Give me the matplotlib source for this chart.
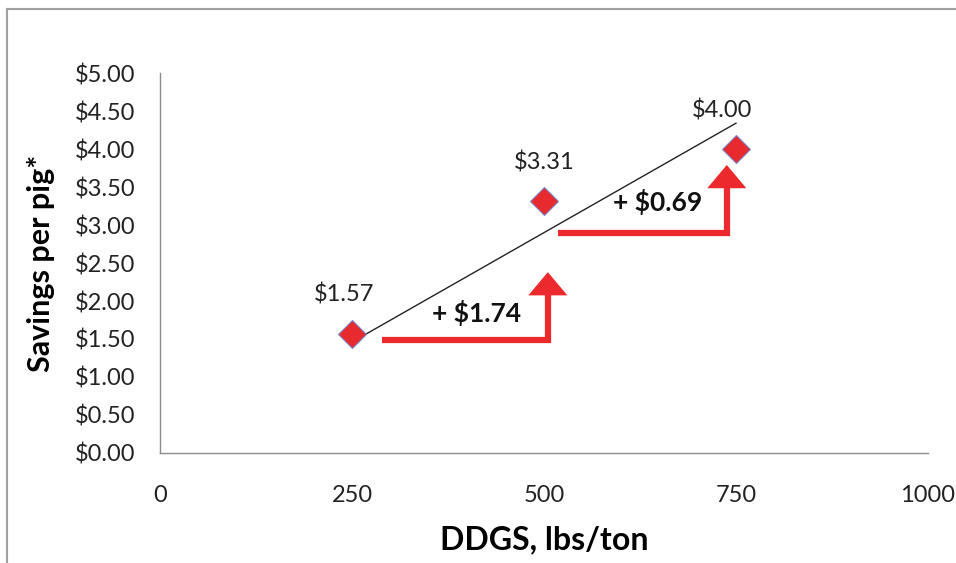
import matplotlib.pyplot as plt
from matplotlib.lines import Line2D
from matplotlib.ticker import FuncFormatter

plt.rcParams['font.family'] = ['Lato', 'DejaVu Sans']

# DDGS inclusion vs savings per pig
ddgs = [250, 500, 750]
savings = [1.57, 3.31, 4.00]
point_labels = ['$1.57', '$3.31', '$4.00']

# trend line ends as drawn
trend_x = [250, 750]
trend_y = [1.46, 4.34]

# elbow arrows: (start x, start y, end x, end y, text, text x, text y)
arrows = [
    (289, 1.49, 505, 2.38, '+ $1.74', 412, 1.84),
    (518, 2.89, 738, 3.79, '+ $0.69', 648, 3.30),
]

red = '#ec2a2e'

fig = plt.figure(figsize=(9.56, 5.63), dpi=100)
ax = fig.add_axes([0.1674, 0.1954, 0.8033, 0.6749])

ax.plot(trend_x, trend_y, color='#222222', lw=1.0, zorder=2)
ax.plot(ddgs, savings, ls='none', marker='D', ms=14, mfc='#e8292d',
        mec='#7b86c8', mew=0.8, zorder=4)

for x, y, lab in zip(ddgs, savings, point_labels):
    dx = -14 if x == 750 else (-8 if x == 250 else 0)
    ax.annotate(lab, (x, y), xytext=(dx, 28), textcoords='offset pixels',
                ha='center', va='bottom', fontsize=17, color='#222222')

for x0, y0, x1, y1, txt, tx, ty in arrows:
    ax.annotate('', xy=(x1, y1), xytext=(x0, y0),
                arrowprops=dict(arrowstyle='-|>,head_length=0.5,head_width=0.42',
                                connectionstyle='angle,angleA=0,angleB=90,rad=0',
                                color=red, lw=4.5, mutation_scale=22,
                                shrinkA=0, shrinkB=0, joinstyle='miter',
                                capstyle='butt'), zorder=3)
    ax.text(tx, ty, txt, ha='center', va='center', fontsize=19,
            fontweight='bold', color='#111111')

ax.set_xlim(0, 1000)
ax.set_ylim(0, 5)
ax.set_xticks([0, 250, 500, 750, 1000])
ax.set_yticks([i * 0.5 for i in range(11)])
ax.yaxis.set_major_formatter(FuncFormatter(lambda v, p: f'${v:.2f}'))
ax.tick_params(length=0, labelsize=17, labelcolor='#222222')
ax.tick_params(axis='y', pad=18)
ax.tick_params(axis='x', pad=23)

for s in ['top', 'right']:
    ax.spines[s].set_visible(False)
for s in ['left', 'bottom']:
    ax.spines[s].set_color('#8c8c8c')
    ax.spines[s].set_linewidth(1.0)

ax.set_xlabel('DDGS, lbs/ton', fontsize=23, fontweight='bold', labelpad=14)
ax.set_ylabel('Savings per pig*', fontsize=22, fontweight='bold', labelpad=14)

# frame edges along top and left of the figure
fig.add_artist(Line2D([0.0073, 1.0], [0.984, 0.984], color='#a0a0a0', lw=1.5))
fig.add_artist(Line2D([0.0073, 0.0073], [0.0, 0.984], color='#a0a0a0', lw=1.5))

fig.savefig('out.png', dpi=100)
